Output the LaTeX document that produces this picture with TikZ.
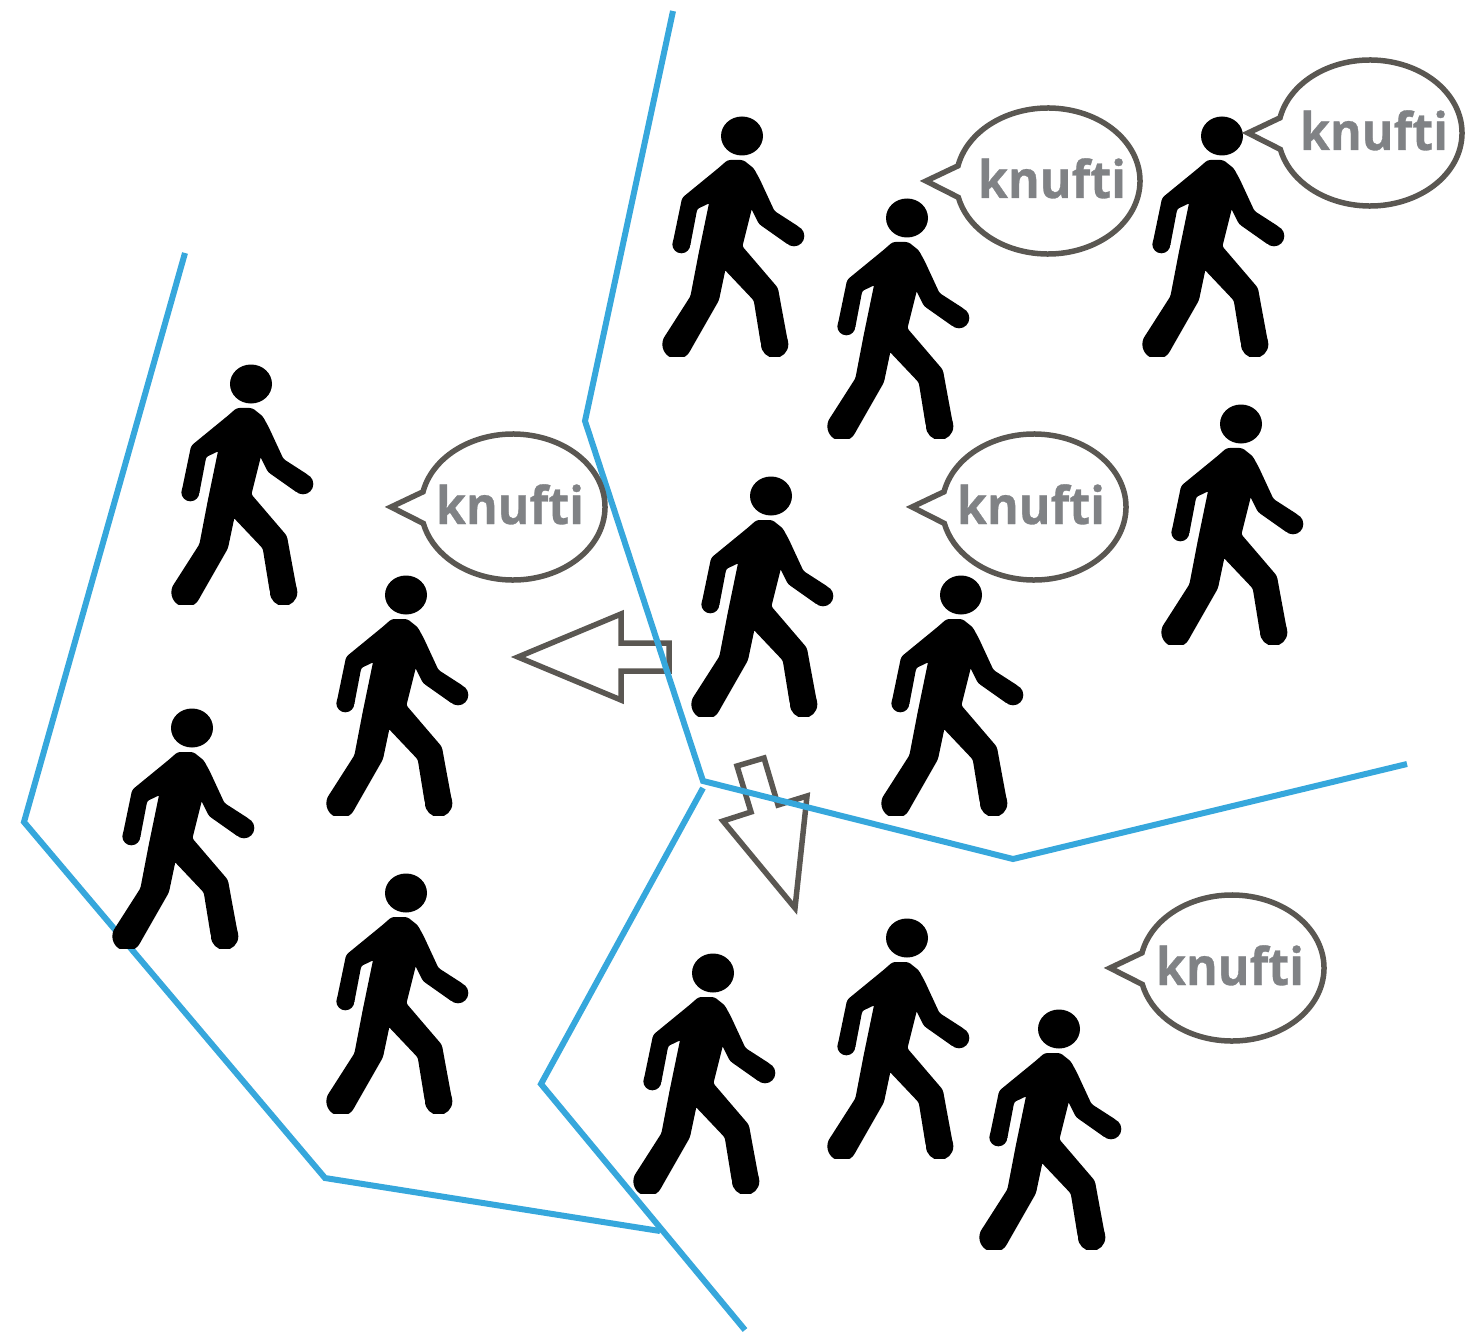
\documentclass[tikz,border=0pt]{standalone}
\usepackage{fontspec}
\usetikzlibrary{shapes.geometric}
\setmainfont{Open Sans}
\definecolor{bluel}{HTML}{36A7DC}
\definecolor{greyl}{HTML}{5A5752}
\definecolor{greyt}{HTML}{808285}
\tikzset{
  x=1pt,y=-1pt,
  partition/.style={draw=bluel,line width=6pt,line join=miter},
  outlinearrow/.style={draw=greyl,line width=5.5pt,line join=miter},
  bubbletext/.style={font=\fontsize{52}{52}\selectfont\bfseries\addfontfeature{FakeBold=0.6},text=greyt,inner sep=0pt,anchor=base,xscale=0.93,transform shape},
  bubbleline/.style={draw=greyl,line width=5.5pt,line join=miter,fill=none},
  headshape/.style={ellipse,fill=black,inner sep=0pt,minimum width=42pt,minimum height=39pt},
  pics/walker/.style={code={
    \node[headshape] (head) at (0,0) {};
    \begin{scope}[scale=0.3333,shift={(-307,-108)}]
    \clip (0,-50) rectangle (600,770);
    \fill[black,draw=black,line width=2pt,line join=round,rounded corners=2.5pt]
      (265,183) -- (310,183) -- (340,207) -- (358,240) -- (402,335) -- (478,384) -- (463,408) -- (448,432)
      -- (360,370) -- (335,320) -- (305,440) -- (412,565) -- (422,620) -- (443,733)
      -- (405,733) -- (367,735) -- (345,600) -- (255,505) -- (235,600) -- (147,754)
      -- (112,733) -- (77,712) -- (155,590) -- (180,460) -- (212,305) -- (170,325)
      -- (148,440) -- (125,433) -- (102,430) -- (130,295) -- (240,205) -- cycle;
    \fill[black] (463,408) circle[radius=31];
    \fill[black] (125,433) circle[radius=27];
    \fill[black] (112,733) circle[radius=44];
    \fill[black] (405,733) circle[radius=41];
    \end{scope}
  }},
  pics/speech/.style={code={
    \draw[bubbleline] (-122,0) -- (192:92 and 73) arc[start angle=192,end angle=527,x radius=92,y radius=73] -- cycle;
    \node[bubbletext] (label) at (#1,17) {knufti};
  }}
}
\begin{document}
\begin{tikzpicture}
\useasboundingbox (0,0) rectangle (1477,1332);
% outline arrows
\coordinate (la1) at (518,657); \coordinate (la2) at (621,614); \coordinate (la3) at (621,643);
\coordinate (la4) at (669,643); \coordinate (la5) at (669,671); \coordinate (la6) at (621,671); \coordinate (la7) at (621,700);
\draw[outlinearrow] (la1) -- (la2) -- (la3) -- (la4) -- (la5) -- (la6) -- (la7) -- cycle;
\coordinate (da1) at (737,766); \coordinate (da2) at (764,758); \coordinate (da3) at (778,805); \coordinate (da4) at (807,796);
\coordinate (da5) at (795,908); \coordinate (da6) at (723,821); \coordinate (da7) at (751,812);
\draw[outlinearrow] (da1) -- (da2) -- (da3) -- (da4) -- (da5) -- (da6) -- (da7) -- cycle;
% partition lines
\coordinate (p1) at (673,11); \coordinate (p2) at (585,421); \coordinate (p3) at (703,781); \coordinate (p4) at (1013,859); \coordinate (p5) at (1407,764);
\draw[partition] (p1) -- (p2) -- (p3) -- (p4) -- (p5);
\coordinate (q1) at (185,253); \coordinate (q2) at (24,822); \coordinate (q3) at (325,1178); \coordinate (q4) at (660,1231);
\draw[partition] (q1) -- (q2) -- (q3) -- (q4);
\coordinate (r1) at (703,788); \coordinate (r2) at (541,1084); \coordinate (r3) at (745,1330);
\draw[partition] (r1) -- (r2) -- (r3);
% walkers
\pic (w1) at (742,136) {walker};
\pic (w2) at (907,218) {walker};
\pic (w3) at (1222,136) {walker};
\pic (w4) at (771,496) {walker};
\pic (w5) at (961,595) {walker};
\pic (w6) at (1241,424) {walker};
\pic (w7) at (251,384) {walker};
\pic (w8) at (406,595) {walker};
\pic (w9) at (192,728) {walker};
\pic (w10) at (406,893) {walker};
\pic (w11) at (713,973) {walker};
\pic (w12) at (907,938) {walker};
\pic (w13) at (1059,1029) {walker};
% bubbles
\pic (b1) at (1048,181) {speech=4};
\pic (b2) at (1370,133) {speech=4};
\pic (b3) at (1034,507) {speech=-3};
\pic (b4) at (513,507) {speech=-3};
\pic (b5) at (1232,968) {speech=-2};
\end{tikzpicture}
\end{document}
